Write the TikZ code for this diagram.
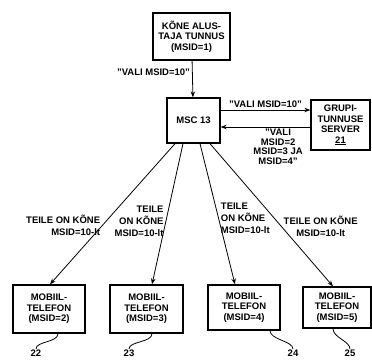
\documentclass[tikz,border=0pt]{standalone}
\usepackage{fontspec}
\setmainfont{Liberation Sans}
\usetikzlibrary{arrows.meta}

\begin{document}
\begin{tikzpicture}[x=1pt,y=-1pt,>={Stealth[length=6pt,width=4.5pt]}]
    \tikzset{box/.style = {draw, line width=1.3pt, align=center, inner sep=1pt, font=\bfseries\fontsize{9.5}{10.5}\selectfont}}
    \tikzset{lbl/.style = {inner sep=2pt, font=\bfseries\fontsize{9.5}{12}\selectfont}}
    \tikzset{edge/.style = {draw, line width=0.8pt, ->}}
    \tikzset{refline/.style = {draw, line width=0.8pt}}
    \useasboundingbox (0,0) rectangle (372,361);

    % vertices
    \node[box, minimum width=77pt, minimum height=47pt] (kone) at (191.5,36.5) {KÕNE ALUS-\\TAJA TUNNUS\\(MSID=1)};
    \node[box, minimum width=53pt, minimum height=45pt] (msc) at (193.5,120.5) {MSC 13};
    \node[box, minimum width=59pt, minimum height=50pt] (grupi) at (340.5,125) {GRUPI-\\TUNNUSE\\SERVER\\\underline{21}};
    \node[box, minimum width=72pt, minimum height=48pt] (p1) at (49,309) {MOBIIL-\\TELEFON\\(MSID=2)};
    \node[box, minimum width=73pt, minimum height=48pt] (p2) at (146.5,309) {MOBIIL-\\TELEFON\\(MSID=3)};
    \node[box, minimum width=72pt, minimum height=45pt] (p3) at (244,307.5) {MOBIIL-\\TELEFON\\(MSID=4)};
    \node[box, minimum width=68pt, minimum height=41pt] (p4) at (337,307.5) {MOBIIL-\\TELEFON\\(MSID=5)};

    % reference numbers
    \node[lbl, anchor=north, inner sep=1pt] (n22) at (36,349) {22};
    \node[lbl, anchor=north, inner sep=1pt] (n23) at (129,349) {23};
    \node[lbl, anchor=north, inner sep=1pt] (n24) at (293,349) {24};
    \node[lbl, anchor=north, inner sep=1pt] (n25) at (350,349) {25};

    % edges
    \draw [edge] (kone) -- node[lbl, pos=0.32, left]{"VALI MSID=10"} (msc);
    \draw [edge] ([yshift=10.5pt]msc.east) -- node[lbl, midway, above]{"VALI MSID=10"} ([yshift=10.5pt]msc.east -| grupi.west);
    \draw [edge] ([yshift=-6.5pt]msc.east -| grupi.west) -- node[lbl, pos=0.36, below, align=center, font=\bfseries\fontsize{9.5}{9.5}\selectfont]{"VALI\\MSID=2\\MSID=3 JA\\MSID=4"} ([yshift=-6.5pt]msc.east);
    \draw [edge] ([xshift=-18.5pt]msc.south) -- node[lbl, pos=0.58, left, align=right]{TEILE ON KÕNE\\MSID=10-lt} ([xshift=1pt]p1.north);
    \draw [edge] ([xshift=-10.5pt]msc.south) -- node[lbl, pos=0.55, left, align=right]{TEILE\\ON KÕNE\\MSID=10-lt} ([xshift=5.5pt]p2.north);
    \draw [edge] ([xshift=6.5pt]msc.south) -- node[lbl, pos=0.53, right, align=left]{TEILE\\ON KÕNE\\MSID=10-lt} ([xshift=-9pt]p3.north);
    \draw [edge] ([xshift=16.5pt]msc.south) -- node[lbl, pos=0.58, right, align=center]{TEILE ON KÕNE\\MSID=10-lt} ([xshift=-4pt]p4.north);

    % reference lines
    \draw [refline] ([xshift=9pt]p1.south) .. controls +(0,9) and +(0,-8) .. (n22.north);
    \draw [refline] ([xshift=5.5pt]p2.south) .. controls +(0,9) and +(0,-8) .. (n23.north);
    \draw [refline] ([xshift=26pt]p3.south) .. controls +(0,9) and +(0,-8) .. (n24.north);
    \draw [refline] ([xshift=-4pt]p4.south) .. controls +(0,9) and +(0,-8) .. (n25.north);
\end{tikzpicture}
\end{document}
